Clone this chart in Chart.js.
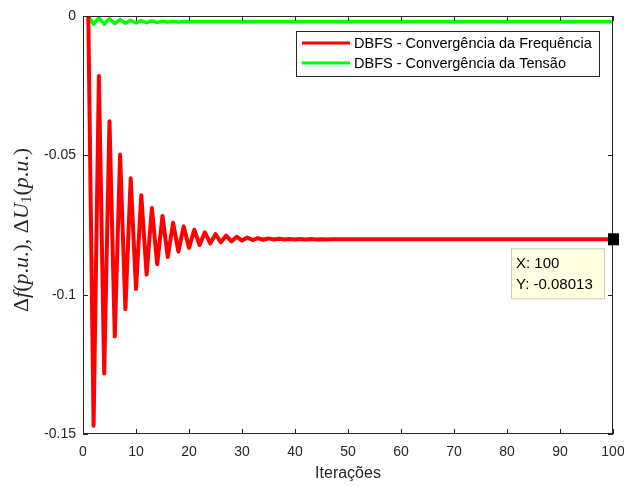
<!DOCTYPE html>
<html>
<head>
<meta charset="utf-8">
<script src="https://cdn.jsdelivr.net/npm/chart.js@4"></script>
<style>
body{margin:0;background:#fff;}
#wrap{width:624px;height:487px;}
</style>
</head>
<body>
<div id="wrap"><canvas id="convChart" width="624" height="487"></canvas></div>
<script>
// Convergencia DBFS

const iteracoes = [
1,2,3,4,5,6,7,8,9,10,11,12,13,14,15,16,17,18,19,20,
21,22,23,24,25,26,27,28,29,30,31,32,33,34,35,36,37,38,39,40,
41,42,43,44,45,46,47,48,49,50,51,52,53,54,55,56,57,58,59,60,
61,62,63,64,65,66,67,68,69,70,71,72,73,74,75,76,77,78,79,80,
81,82,83,84,85,86,87,88,89,90,91,92,93,94,95,96,97,98,99,100
];

const freq = [
0,-0.1470,-0.0215,-0.1283,-0.0378,-0.1150,-0.0497,-0.1052,-0.0582,-0.0980,
-0.0643,-0.0928,-0.0689,-0.0891,-0.0718,-0.0865,-0.0742,-0.0845,-0.0755,-0.0832,
-0.0767,-0.0822,-0.0776,-0.0816,-0.0783,-0.0812,-0.0788,-0.0809,-0.0792,-0.0806,
-0.0795,-0.0804,-0.0797,-0.0803,-0.0798,-0.0802,-0.0799,-0.0802,-0.0800,-0.0802,
-0.0800,-0.08018,-0.08005,-0.08017,-0.08008,-0.08016,-0.0801,-0.08015,-0.08013,-0.08013,
-0.08013,-0.08013,-0.08013,-0.08013,-0.08013,-0.08013,-0.08013,-0.08013,-0.08013,-0.08013,
-0.08013,-0.08013,-0.08013,-0.08013,-0.08013,-0.08013,-0.08013,-0.08013,-0.08013,-0.08013,
-0.08013,-0.08013,-0.08013,-0.08013,-0.08013,-0.08013,-0.08013,-0.08013,-0.08013,-0.08013,
-0.08013,-0.08013,-0.08013,-0.08013,-0.08013,-0.08013,-0.08013,-0.08013,-0.08013,-0.08013,
-0.08013,-0.08013,-0.08013,-0.08013,-0.08013,-0.08013,-0.08013,-0.08013,-0.08013,-0.08013
];

const tensao = [
0,-0.0030,-0.0006,-0.0029,-0.0010,-0.0027,-0.0013,-0.0026,-0.0015,-0.0025,
-0.0017,-0.0024,-0.0018,-0.0023,-0.0019,-0.0022,-0.0020,-0.0022,-0.0020,-0.0021,
-0.0021,-0.0021,-0.0021,-0.0021,-0.0021,-0.0021,-0.0021,-0.0021,-0.0021,-0.0021,
-0.0021,-0.0021,-0.0021,-0.0021,-0.0021,-0.0021,-0.0021,-0.0021,-0.0021,-0.0021,
-0.0021,-0.0021,-0.0021,-0.0021,-0.0021,-0.0021,-0.0021,-0.0021,-0.0021,-0.0021,
-0.0021,-0.0021,-0.0021,-0.0021,-0.0021,-0.0021,-0.0021,-0.0021,-0.0021,-0.0021,
-0.0021,-0.0021,-0.0021,-0.0021,-0.0021,-0.0021,-0.0021,-0.0021,-0.0021,-0.0021,
-0.0021,-0.0021,-0.0021,-0.0021,-0.0021,-0.0021,-0.0021,-0.0021,-0.0021,-0.0021,
-0.0021,-0.0021,-0.0021,-0.0021,-0.0021,-0.0021,-0.0021,-0.0021,-0.0021,-0.0021,
-0.0021,-0.0021,-0.0021,-0.0021,-0.0021,-0.0021,-0.0021,-0.0021,-0.0021,-0.0021
];

const xTicks = [0,10,20,30,40,50,60,70,80,90,100];
const yTicks = [0,-0.05,-0.1,-0.15];
const yTickLabels = ["0","-0.05","-0.1","-0.15"];
const seriesNames = ["DBFS - Convergência da Frequência","DBFS - Convergência da Tensão"];
const tipLines = ["X: 100","Y: -0.08013"];

const axisColor = "#262626";
const sans = "'Liberation Sans', Arial, sans-serif";

// box + ticks pointing inward, like matlab
const boxPlugin = {
id:"box",
afterDraw(chart){
const ctx = chart.ctx, a = chart.chartArea;
const xs = chart.scales.x, ys = chart.scales.y;
ctx.save();
ctx.strokeStyle = axisColor;
ctx.lineWidth = 1;
ctx.strokeRect(a.left+0.5, a.top+0.5, a.right-a.left-1, a.bottom-a.top-1);
ctx.beginPath();
xTicks.forEach(v=>{
const px = Math.round(xs.getPixelForValue(v))+0.5;
ctx.moveTo(px,a.bottom); ctx.lineTo(px,a.bottom-5);
ctx.moveTo(px,a.top); ctx.lineTo(px,a.top+5);
});
yTicks.forEach(v=>{
const py = Math.round(ys.getPixelForValue(v))+0.5;
ctx.moveTo(a.left,py); ctx.lineTo(a.left+5,py);
ctx.moveTo(a.right,py); ctx.lineTo(a.right-5,py);
});
ctx.stroke();

// y label, latex style
const parts = [
["Δ","normal"],["f","italic"],["(","normal"],["p","italic"],[".","normal"],["u","italic"],[".","normal"],[")","normal"],
[", ","normal"],["Δ","normal"],["U","italic"],["1","sub"],["(","normal"],["p","italic"],[".","normal"],["u","italic"],[".","normal"],[")","normal"]
];
const fnt = s => s=="italic" ? "italic 22px 'Liberation Serif', serif" : s=="sub" ? "15px 'Liberation Serif', serif" : "22px 'Liberation Serif', serif";
let total = 0;
parts.forEach(p=>{ctx.font = fnt(p[1]); total += ctx.measureText(p[0]).width;});
ctx.translate(22, 230);
ctx.rotate(-Math.PI/2);
ctx.fillStyle = axisColor;
ctx.textBaseline = "middle";
let cx = -total/2;
parts.forEach(p=>{
ctx.font = fnt(p[1]);
ctx.fillText(p[0], cx, p[1]=="sub" ? 5 : 0);
cx += ctx.measureText(p[0]).width;
});
ctx.restore();

// legend
ctx.save();
const lx = 296, ly = 31, lw = 303, lh = 45;
ctx.fillStyle = "#fff";
ctx.fillRect(lx, ly, lw, lh);
ctx.strokeStyle = axisColor;
ctx.strokeRect(lx+0.5, ly+0.5, lw, lh);
ctx.font = "14.5px " + sans;
ctx.textBaseline = "middle";
chart.data.datasets.forEach((d,i)=>{
const yy = ly + 12 + i*20;
ctx.strokeStyle = d.borderColor;
ctx.lineWidth = 3;
ctx.beginPath(); ctx.moveTo(lx+6,yy); ctx.lineTo(lx+54,yy); ctx.stroke();
ctx.fillStyle = "#000";
ctx.fillText(d.label, lx+58, yy+1);
});
ctx.restore();

// data tip at last point of frequency series
const meta = chart.getDatasetMeta(0);
const pt = meta.data[meta.data.length-1];
ctx.save();
ctx.fillStyle = "#000";
ctx.fillRect(pt.x-5, pt.y-6, 11, 12);
const bx = pt.x-102, by = pt.y+9;
ctx.fillStyle = "#ffffe1";
ctx.fillRect(bx, by, 94, 51);
ctx.strokeStyle = "#c8c8b4";
ctx.strokeRect(bx+0.5, by+0.5, 93, 50);
ctx.fillStyle = "#000";
ctx.font = "15px " + sans;
ctx.textBaseline = "middle";
tipLines.forEach((t,i)=>ctx.fillText(t, bx+5, by+16+i*21));
ctx.restore();
}
};

new Chart(
document.getElementById("convChart"),
{
type:"line",

data:{
datasets:[{
label:seriesNames[0],
data:iteracoes.map((it,i)=>({x:it,y:freq[i]})),
borderColor:"#ff0000",
borderWidth:4,
borderJoinStyle:"round",
borderCapStyle:"round",
pointRadius:0,
tension:0
},{
label:seriesNames[1],
data:iteracoes.map((it,i)=>({x:it,y:tensao[i]})),
borderColor:"#00ff00",
borderWidth:3.5,
borderJoinStyle:"round",
borderCapStyle:"round",
pointRadius:0,
tension:0
}]
},

options:{
responsive:false,
animation:false,
layout:{padding:{top:16,right:11,left:0,bottom:0}},
plugins:{legend:{display:false},tooltip:{enabled:false}},
scales:{
x:{
type:"linear",
min:0,max:100,
afterBuildTicks:s=>{s.ticks = xTicks.map(v=>({value:v}));},
afterFit:s=>{s.height = 53; s.paddingLeft = 0; s.paddingRight = 0;},
grid:{display:false,drawTicks:false},
border:{display:false},
ticks:{color:axisColor,font:{family:sans,size:14},padding:10,maxRotation:0},
title:{display:true,text:"Iterações",color:axisColor,font:{family:sans,size:16},padding:{top:2}}
},
y:{
min:-0.15,max:0,
afterBuildTicks:s=>{s.ticks = yTicks.map(v=>({value:v}));},
afterFit:s=>{s.width = 83; s.paddingTop = 0; s.paddingBottom = 0;},
grid:{display:false,drawTicks:false},
border:{display:false},
ticks:{
color:axisColor,font:{family:sans,size:14},padding:7,
callback:v=>{const k = yTicks.findIndex(t=>Math.abs(t-v)<1e-9); return k<0 ? "" : yTickLabels[k];}
}
}
}
},
plugins:[boxPlugin]
}
);
</script>
</body>
</html>
